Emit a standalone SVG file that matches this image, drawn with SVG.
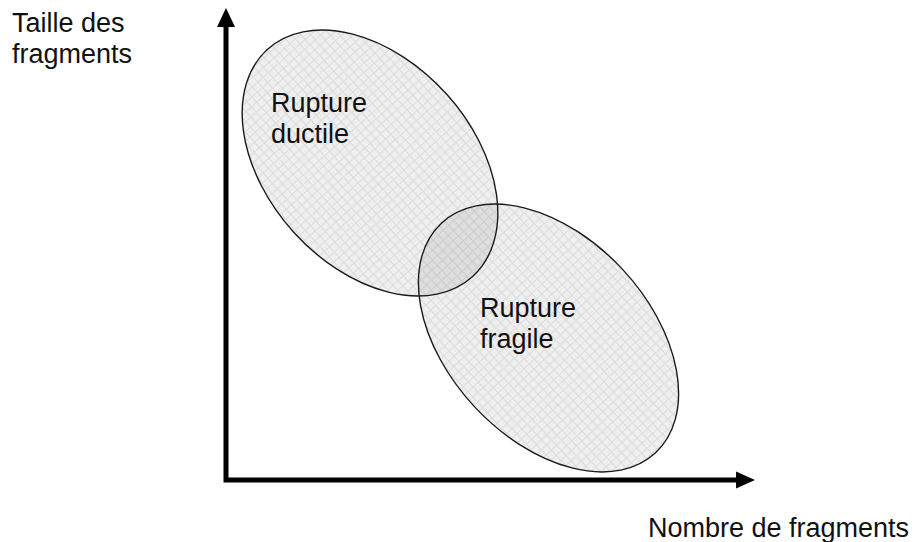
<svg xmlns="http://www.w3.org/2000/svg" width="923" height="542" viewBox="0 0 923 542">
<style>
.lbl{font-family:"Liberation Sans",Arial,sans-serif;font-size:27px;fill:#111}
.zone{fill:url(#grid)}
.outline{fill:none;stroke:#1a1a1a;stroke-width:1.4}
.axis{fill:none;stroke:#000;stroke-width:5;stroke-linejoin:miter}
</style>
<defs>
<pattern id="grid" patternUnits="userSpaceOnUse" width="7.1" height="7.1">
<rect width="7.1" height="7.1" fill="#efefef"/>
<path d="M0,0.5H7.1M0.5,0V7.1" stroke="#dcdcdc" stroke-width="1"/>
</pattern>
<clipPath id="clip1">
<ellipse cx="370" cy="163" rx="153" ry="103" transform="rotate(48 370 163)"/>
</clipPath>
</defs>
<rect width="923" height="542" fill="#fff"/>
<g id="ductile">
<ellipse class="zone" cx="370" cy="163" rx="153" ry="103" transform="rotate(48 370 163)"/>
</g>
<g id="fragile">
<ellipse class="zone" cx="548.5" cy="338" rx="157" ry="101" transform="rotate(47 548.5 338)"/>
</g>
<g id="overlap" clip-path="url(#clip1)">
<ellipse fill="#000" fill-opacity="0.07" cx="548.5" cy="338" rx="157" ry="101" transform="rotate(47 548.5 338)"/>
</g>
<g id="outlines">
<ellipse class="outline" cx="370" cy="163" rx="153" ry="103" transform="rotate(48 370 163)"/>
<ellipse class="outline" cx="548.5" cy="338" rx="157" ry="101" transform="rotate(47 548.5 338)"/>
</g>
<g id="labels">
<text class="lbl" x="271" y="112">Rupture</text>
<text class="lbl" x="271" y="143">ductile</text>
<text class="lbl" x="480" y="317">Rupture</text>
<text class="lbl" x="480" y="348">fragile</text>
</g>
<g id="axes">
<path class="axis" d="M226,26V480H738"/>
<polygon points="226,8 217,27 235,27" fill="#000"/>
<polygon points="755,480 736,471.5 736,488.5" fill="#000"/>
</g>
<g id="axis-labels">
<text class="lbl" x="12" y="32">Taille des</text>
<text class="lbl" x="12" y="63">fragments</text>
<text class="lbl" x="648" y="537">Nombre de fragments</text>
</g>
</svg>
